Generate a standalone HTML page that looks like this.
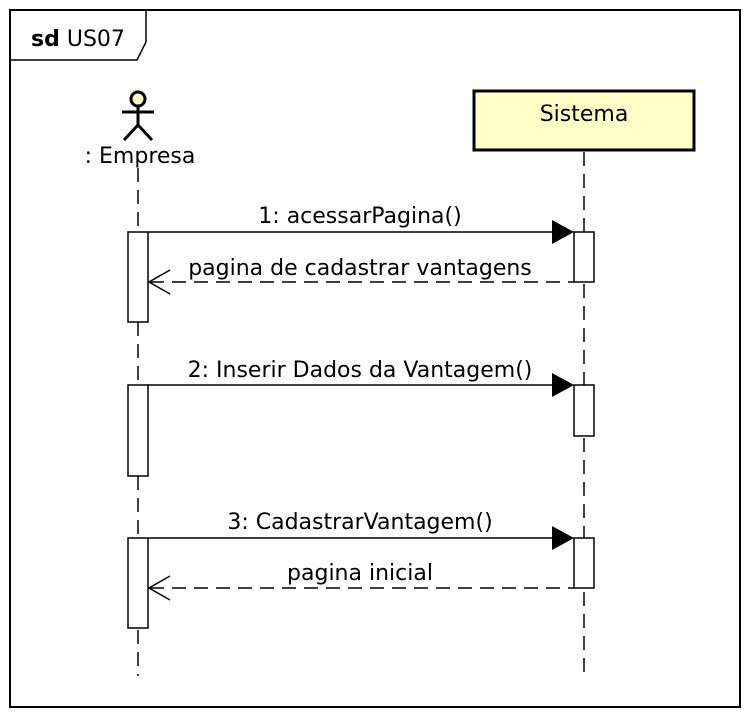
<!DOCTYPE html>
<html><head><style>
body{margin:0;background:#fff;}
svg text{font-family:"DejaVu Sans","Liberation Sans",sans-serif;font-size:22px;fill:#000;}
</style></head><body>
<svg width="750" height="718" viewBox="0 0 750 718" xmlns="http://www.w3.org/2000/svg">
<rect x="0" y="0" width="750" height="718" fill="#fff"/>
<rect x="10" y="10" width="730" height="697" fill="none" stroke="#000" stroke-width="2"/>
<path d="M10 60 H137 L146 42 V10" fill="none" stroke="#000" stroke-width="1.5"/>
<text x="31" y="46" font-size="21"><tspan font-weight="bold">sd</tspan> US07</text>
<!-- actor -->
<circle cx="138" cy="99" r="7" fill="#ffffc8" stroke="#000" stroke-width="3"/>
<line x1="138" y1="106" x2="138" y2="126" stroke="#000" stroke-width="3"/>
<line x1="122" y1="112" x2="154" y2="112" stroke="#000" stroke-width="3"/>
<line x1="138" y1="125" x2="124" y2="140" stroke="#000" stroke-width="3"/>
<line x1="138" y1="125" x2="152" y2="140" stroke="#000" stroke-width="3"/>
<text x="140" y="163" text-anchor="middle">: Empresa</text>
<!-- Sistema -->
<rect x="474" y="91" width="220" height="59" fill="#ffffc8" stroke="#000" stroke-width="3"/>
<text x="584" y="121" text-anchor="middle">Sistema</text>
<!-- lifelines -->
<line x1="138" y1="168" x2="138" y2="676" stroke="#000" stroke-width="1.5" stroke-dasharray="14,8"/>
<line x1="584" y1="152" x2="584" y2="678" stroke="#000" stroke-width="1.5" stroke-dasharray="14,8"/>
<!-- activations -->
<g fill="#fff" stroke="#000" stroke-width="1.5">
<rect x="128" y="232" width="20" height="90"/>
<rect x="128" y="385" width="20" height="91"/>
<rect x="128" y="538" width="20" height="90"/>
<rect x="574" y="232" width="20" height="50"/>
<rect x="574" y="385" width="20" height="51"/>
<rect x="574" y="538" width="20" height="50"/>
</g>
<!-- messages -->
<g stroke="#000" stroke-width="1.5">
<line x1="148" y1="232" x2="560" y2="232"/>
<line x1="148" y1="385" x2="560" y2="385"/>
<line x1="148" y1="538" x2="560" y2="538"/>
<line x1="150" y1="282" x2="574" y2="282" stroke-dasharray="14,8"/>
<line x1="150" y1="588" x2="574" y2="588" stroke-dasharray="14,8"/>
<polyline points="170,270 149,282 170,294" fill="none"/>
<polyline points="170,576 149,588 170,600" fill="none"/>
</g>
<g fill="#000">
<polygon points="552,220 574,232 552,244"/>
<polygon points="552,373 574,385 552,397"/>
<polygon points="552,526 574,538 552,550"/>
</g>
<text x="360" y="223" text-anchor="middle">1: acessarPagina()</text>
<text x="360" y="275" text-anchor="middle">pagina de cadastrar vantagens</text>
<text x="360" y="377" text-anchor="middle">2: Inserir Dados da Vantagem()</text>
<text x="360" y="529" text-anchor="middle">3: CadastrarVantagem()</text>
<text x="360" y="580" text-anchor="middle">pagina inicial</text>
</svg>
</body></html>
